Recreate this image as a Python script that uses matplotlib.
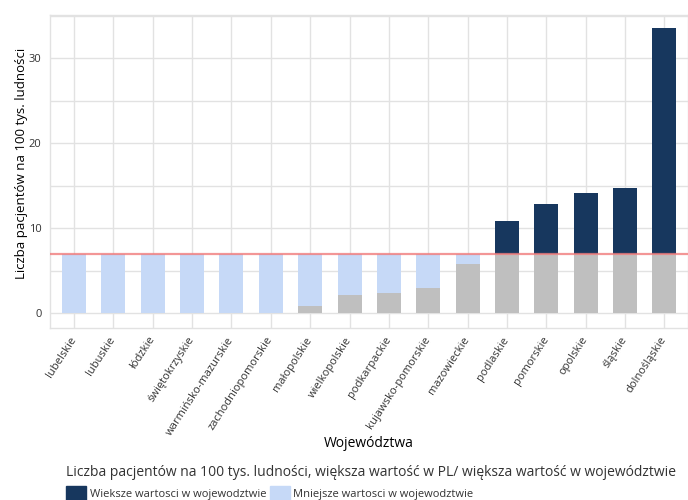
import matplotlib
matplotlib.use("Agg")
import matplotlib.pyplot as plt
import numpy as np
from matplotlib.patches import Patch

plt.rcParams['font.family'] = ['Open Sans', 'DejaVu Sans']
plt.rcParams['text.color'] = '#333333'

wojewodztwa = ['lubelskie', 'lubuskie', 'łódzkie', 'świętokrzyskie', 'warmińsko-mazurskie',
               'zachodniopomorskie', 'małopolskie', 'wielkopolskie', 'podkarpackie',
               'kujawsko-pomorskie', 'mazowieckie', 'podlaskie', 'pomorskie', 'opolskie',
               'śląskie', 'dolnośląskie']
wartosci = [0, 0, 0, 0, 0, 0, 0.86, 2.15, 2.4, 2.98, 5.84, 10.86, 12.86, 14.15, 14.74, 33.56]
wartosc_pl = 6.94

c_dark = '#17375e'
c_light = '#c6d9f7'
c_gray = '#bfbfbf'
c_grid = '#e2e2e2'

v = np.array(wartosci)
szary = np.minimum(v, wartosc_pl)
jasny = np.clip(wartosc_pl - v, 0, None)
ciemny = np.clip(v - wartosc_pl, 0, None)

fig = plt.figure(figsize=(6.88, 5), dpi=100)
ax = fig.add_axes([50 / 688, 172 / 500, 638 / 688, 313 / 500])

x = np.arange(len(wojewodztwa))
ax.bar(x, szary, width=0.61, color=c_gray, zorder=2)
ax.bar(x, jasny, width=0.61, bottom=szary, color=c_light, zorder=2)
ax.bar(x, ciemny, width=0.61, bottom=szary, color=c_dark, zorder=2)
ax.axhline(wartosc_pl, color='#f07c7c', lw=1.6, alpha=0.8, zorder=3)

ax.set_xlim(-0.61, 15.6)
ax.set_ylim(-1.73, 35.1)
ax.set_yticks([0, 10, 20, 30])
ax.set_yticks([5, 15, 25, 35], minor=True)
ax.set_xticks(x)
ax.set_xticklabels(wojewodztwa, rotation=57, ha='right', va='center',
                   rotation_mode='anchor', fontsize=8)
ax.tick_params(axis='both', which='both', length=0, labelsize=8, colors='#333333')
ax.tick_params(axis='x', pad=7)
ax.tick_params(axis='y', pad=6)
ax.grid(True, which='both', color=c_grid, lw=1, zorder=0)
for s in ax.spines.values():
    s.set_color(c_grid)
    s.set_linewidth(1)

ax.set_xlabel('Województwa', fontsize=10)
ax.xaxis.set_label_coords(0.5, -0.345)
ax.set_ylabel('Liczba pacjentów na 100 tys. ludności', fontsize=9.5)
ax.yaxis.set_label_coords(-0.0345, 0.525)

uchwyty = [Patch(color=c_dark, label='Wieksze wartosci w wojewodztwie'),
           Patch(color=c_light, label='Mniejsze wartosci w wojewodztwie')]
leg = fig.legend(handles=uchwyty, ncol=2, loc='upper left',
                 bbox_to_anchor=(58 / 688, 1 - 457 / 500), frameon=False,
                 title='Liczba pacjentów na 100 tys. ludności, większa wartość w PL/ większa wartość w województwie',
                 title_fontsize=10, fontsize=8, handlelength=1.8, handleheight=1.6,
                 handletextpad=0.35, columnspacing=0.3, borderpad=0.2, labelspacing=0.6)
leg._legend_box.align = 'left'

fig.savefig('out.png', dpi=100)
